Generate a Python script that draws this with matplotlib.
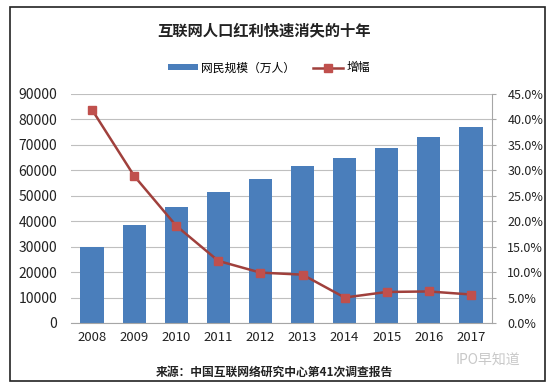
import numpy as np
import matplotlib
matplotlib.use('Agg')
from matplotlib import pyplot as plt
import matplotlib.patches as patches

plt.rcParams['font.family'] = ['Noto Sans CJK SC', 'DejaVu Sans']

years = ['2008', '2009', '2010', '2011', '2012', '2013', '2014', '2015', '2016', '2017']
users = [29800, 38400, 45700, 51300, 56400, 61800, 64900, 68800, 73100, 77200]
growth = [41.9, 28.9, 19.1, 12.2, 9.9, 9.5, 5.0, 6.1, 6.2, 5.6]

bar_color = '#4a7ebb'
line_color = '#a0403c'
marker_color = '#c0504d'
grid_color = '#bfbfbf'

fig = plt.figure(figsize=(5.49, 3.86), dpi=100)
fig.patch.set_facecolor('white')

# outer frame
frame = patches.Rectangle((10/549, 1-381/386), 535/549, 374/386, transform=fig.transFigure,
                          fill=False, edgecolor='#222222', linewidth=1.2)
fig.patches.append(frame)

ax = fig.add_axes([71/549, 1-323/386, 421/549, 229/386])
x = np.arange(len(years))
ax.bar(x, users, width=0.55, color=bar_color, zorder=2, label='网民规模（万人）')
ax.set_xlim(-0.5, len(years)-0.5)
ax.set_ylim(0, 90000)
ax.set_yticks(np.arange(0, 90001, 10000))
ax.set_xticks(x)
ax.set_xticklabels(years)
ax.yaxis.grid(True, color=grid_color, linewidth=0.8, zorder=0)
ax.set_axisbelow(True)
for s in ['top', 'left', 'right']:
    ax.spines[s].set_visible(False)
ax.spines['bottom'].set_color('#a6a6a6')
ax.tick_params(axis='y', length=0, labelsize=10, colors='#222222', pad=10)
ax.tick_params(axis='x', length=0, labelsize=9.5, colors='#222222', pad=6)

ax2 = ax.twinx()
ax2.plot(x, growth, color=line_color, linewidth=1.8, marker='s', markersize=6,
         markerfacecolor=marker_color, markeredgecolor=marker_color, zorder=3, label='增幅')
ax2.set_ylim(0, 45)
ax2.set_yticks(np.arange(0, 45.1, 5))
ax2.set_yticklabels(['{:.1f}%'.format(v) for v in np.arange(0, 45.1, 5)])
for s in ['top', 'left', 'bottom']:
    ax2.spines[s].set_visible(False)
ax2.spines['right'].set_color('#a6a6a6')
ax2.tick_params(axis='y', length=3, color='#a6a6a6', labelsize=9, colors='#222222', pad=8)

fig.text(0.48, 1-30/386, '互联网人口红利快速消失的十年', ha='center', va='center',
         fontsize=11, fontweight='bold', color='#222222')

h1, l1 = ax.get_legend_handles_labels()
h2, l2 = ax2.get_legend_handles_labels()
fig.legend(h1 + h2, l1 + l2, loc='center', bbox_to_anchor=(0.49, 1-68/386), ncol=2,
           frameon=False, fontsize=8.5, handlelength=2.5, handleheight=0.4, columnspacing=1.5,
           handletextpad=0.3)

fig.text(0.5, 1-372/386, '来源：中国互联网络研究中心第41次调查报告', ha='center', va='center',
         fontsize=8.5, fontweight='bold', color='#222222')
fig.text(488/549, 1-361/386, 'IPO早知道', ha='center', va='center',
         fontsize=10, color='#c8c8c8')

fig.savefig('out.png', dpi=100)
